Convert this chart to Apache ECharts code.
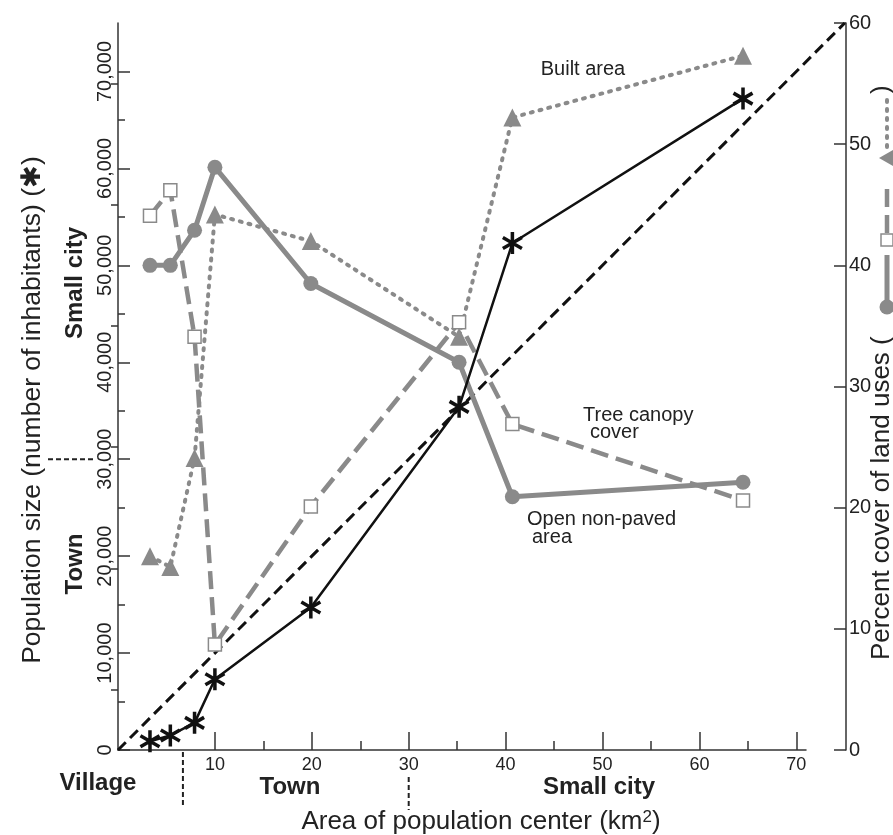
<!DOCTYPE html>
<html><head><meta charset="utf-8">
<script src="https://cdn.jsdelivr.net/npm/echarts@6/dist/echarts.min.js"></script>
<style>html,body{margin:0;padding:0;background:#fff}#c{width:893px;height:835px}</style>
</head><body><div id="c"></div>
<script>
// ---- data ----
const AREA_KM2          = [3.3, 5.4, 7.9, 10, 19.9, 35.2, 40.7, 64.5];
const POPULATION        = [900, 1500, 2800, 7300, 14700, 35400, 52300, 67200];
const OPEN_NONPAVED_PCT = [40.0, 40.0, 42.9, 48.1, 38.5, 32.0, 20.9, 22.1];
const TREE_CANOPY_PCT   = [44.1, 46.2, 34.1, 8.7, 20.1, 35.3, 26.9, 20.6];
const BUILT_AREA_PCT    = [16.0, 15.1, 24.1, 44.2, 42.0, 34.1, 52.2, 57.3];
const DIAG_X   = [0, 75];
const DIAG_POP = [0, 75000];
const X_TICKS   = [10, 20, 30, 40, 50, 60, 70];
const X_MINOR   = [15, 25, 35, 45, 55, 65];
const POP_TICKS = [0, 10000, 20000, 30000, 40000, 50000, 60000, 70000];
const POP_MINOR = [5000, 15000, 25000, 35000, 45000, 55000, 65000];
const PCT_TICKS = [0, 10, 20, 30, 40, 50, 60];
const PCT_MINOR = [5, 15, 25, 35, 45, 55];
const X_MAX = 71, POP_MAX = 75000, PCT_MAX = 60;
const VILLAGE_TOWN_KM2 = 6.7, TOWN_CITY_KM2 = 30, TOWN_CITY_POP = 30000;

const W = 893, GRID_LEFT = 118, GRID_RIGHT = 87, RIGHT_AXIS_OFFSET = 40;
// an invisible, wider grid with the same scale so the density line can reach the right axis
const EXT_X_MAX = X_MAX * (W - GRID_LEFT - (GRID_RIGHT - RIGHT_AXIS_OFFSET)) / (W - GRID_LEFT - GRID_RIGHT);

const FONT = '"Liberation Sans", Arial, Helvetica, sans-serif';
const TXT = '#222';
const AX = '#333';
const GRAY = '#8a8a8a';
const BLACK = '#111';

const ASTERISK = 'path://M-1.6,10 L1.6,10 L1.6,-10 L-1.6,-10 Z ' +
  'M7.86,6.39 L9.46,3.61 L-7.86,-6.39 L-9.46,-3.61 Z ' +
  'M-9.46,3.61 L-7.86,6.39 L9.46,-3.61 L7.86,-6.39 Z';

const zip = (xs, ys) => xs.map((x, i) => [x, ys[i]]);

function tickAxis(common, ticks, len, labels) {
  return Object.assign({
    type: 'value', splitLine: { show: false },
    axisTick: { show: true, inside: true, length: len, customValues: ticks, lineStyle: { color: AX, width: 1.5 } },
    axisLabel: labels ? Object.assign({ customValues: ticks, color: TXT, fontFamily: FONT }, labels) : { show: false }
  }, common);
}

const chart = echarts.init(document.getElementById('c'), null, { renderer: 'canvas' });
const option = {
  animation: false,
  backgroundColor: '#fff',
  grid: [
    { left: GRID_LEFT, right: GRID_RIGHT, top: 23, bottom: 85, containLabel: false },
    { left: GRID_LEFT, right: GRID_RIGHT - RIGHT_AXIS_OFFSET, top: 23, bottom: 85, containLabel: false }
  ],
  xAxis: [
    tickAxis({ min: 0, max: X_MAX, position: 'bottom', axisLine: { show: true, onZero: false, lineStyle: { color: AX, width: 1.5 } } },
      X_TICKS, 18, { fontSize: 18, margin: 6 }),
    tickAxis({ min: 0, max: X_MAX, position: 'bottom', axisLine: { show: false } }, X_MINOR, 9, null),
    { type: 'value', gridIndex: 1, min: 0, max: EXT_X_MAX, show: false }
  ],
  yAxis: [
    tickAxis({ min: 0, max: POP_MAX, position: 'left', axisLine: { show: true, onZero: false, lineStyle: { color: AX, width: 1.5 } } },
      POP_TICKS, 12, { fontSize: 20, rotate: 90, margin: 3, formatter: v => Number(v).toLocaleString('en-US') }),
    tickAxis({ min: 0, max: POP_MAX, position: 'left', axisLine: { show: false } }, POP_MINOR, 7, null),
    tickAxis({ min: 0, max: PCT_MAX, position: 'right', offset: RIGHT_AXIS_OFFSET, axisLine: { show: true, onZero: false, lineStyle: { color: AX, width: 1.5 } } },
      PCT_TICKS, 12, { fontSize: 20, margin: 3 }),
    tickAxis({ min: 0, max: PCT_MAX, position: 'right', offset: RIGHT_AXIS_OFFSET, axisLine: { show: false } }, PCT_MINOR, 7, null),
    { type: 'value', gridIndex: 1, min: 0, max: POP_MAX, show: false }
  ],
  series: [
    { name: 'Density line', type: 'line', data: zip(DIAG_X, DIAG_POP), xAxisIndex: 2, yAxisIndex: 4,
      showSymbol: false, symbol: 'none', lineStyle: { color: BLACK, width: 3, type: [11, 6] }, z: 1 },
    { name: 'Open non-paved area', type: 'line', data: zip(AREA_KM2, OPEN_NONPAVED_PCT), yAxisIndex: 2,
      symbol: 'circle', symbolSize: 15, itemStyle: { color: GRAY }, lineStyle: { color: GRAY, width: 5 }, z: 2 },
    { name: 'Tree canopy cover', type: 'line', data: zip(AREA_KM2, TREE_CANOPY_PCT), yAxisIndex: 2,
      symbol: 'rect', symbolSize: 13, itemStyle: { color: '#fff', borderColor: GRAY, borderWidth: 1.5 },
      lineStyle: { color: GRAY, width: 4.5, type: [18, 8] }, z: 3 },
    { name: 'Built area', type: 'line', data: zip(AREA_KM2, BUILT_AREA_PCT), yAxisIndex: 2,
      symbol: 'triangle', symbolSize: 18, itemStyle: { color: GRAY },
      lineStyle: { color: GRAY, width: 4, type: [2, 7], cap: 'round' }, z: 3 },
    { name: 'Population size', type: 'line', data: zip(AREA_KM2, POPULATION), yAxisIndex: 0,
      symbol: ASTERISK, symbolSize: 22, symbolKeepAspect: true, itemStyle: { color: BLACK },
      lineStyle: { color: BLACK, width: 2.5 }, z: 4 }
  ]
};
chart.setOption(option);

function txt(text, x, y, o) {
  o = o || {};
  return { type: 'text', x: x, y: y, rotation: o.rot || 0, z: 10,
    style: { text: text, fontSize: o.size || 20, fontFamily: FONT, fontWeight: o.bold ? 'bold' : 'normal',
      fill: TXT, align: o.align || 'center', verticalAlign: 'middle', rich: o.rich } };
}
const R = Math.PI / 2;
const xv = chart.convertToPixel({ xAxisIndex: 0 }, VILLAGE_TOWN_KM2);
const xt = chart.convertToPixel({ xAxisIndex: 0 }, TOWN_CITY_KM2);
const y0 = chart.convertToPixel({ yAxisIndex: 0 }, 0);
const yt = chart.convertToPixel({ yAxisIndex: 0 }, TOWN_CITY_POP);
const dash = { stroke: '#222', lineWidth: 2, lineDash: [5, 3] };

const graphic = [
  txt('Population size (number of inhabitants) (\u2731)', 33, 410, { rot: R, size: 26.5 }),
  txt('Small city', 75, 283, { rot: R, size: 24, bold: true }),
  txt('Town', 75, 564, { rot: R, size: 24, bold: true }),
  txt('Village', 98, 783, { size: 24, bold: true }),
  txt('Town', 290, 787, { size: 24, bold: true }),
  txt('Small city', 599, 787, { size: 24, bold: true }),
  txt('Area of population center (km{s|2})', 481, 822, { size: 26, rich: { s: { fontSize: 17, fontFamily: FONT, fill: TXT, verticalAlign: 'top', lineHeight: 26 } } }),
  txt('Built area', 583, 69, {}),
  txt('Tree canopy', 583, 415, { align: 'left' }),
  txt('cover', 590, 432, { align: 'left' }),
  txt('Open non-paved', 527, 519, { align: 'left' }),
  txt('area', 532, 537, { align: 'left' }),
  { type: 'line', shape: { x1: xv, y1: y0 + 2, x2: xv, y2: y0 + 58 }, style: dash },
  { type: 'line', shape: { x1: xt, y1: y0 + 27, x2: xt, y2: y0 + 60 }, style: dash },
  { type: 'line', shape: { x1: 48, y1: yt, x2: 95, y2: yt }, style: dash },
  { type: 'group', x: 882, y: 660, rotation: R, children: [
    { type: 'text', x: 0, y: 0, style: { text: 'Percent cover of land uses (', fontSize: 26, fontFamily: FONT, fill: TXT, align: 'left', verticalAlign: 'middle' } },
    { type: 'line', shape: { x1: 353, y1: 5, x2: 405, y2: 5 }, style: { stroke: GRAY, lineWidth: 5 } },
    { type: 'circle', shape: { cx: 353, cy: 5, r: 7.5 }, style: { fill: GRAY } },
    { type: 'line', shape: { x1: 427, y1: 5, x2: 478, y2: 5 }, style: { stroke: GRAY, lineWidth: 4.5, lineDash: [18, 8] } },
    { type: 'rect', shape: { x: 414, y: -1, width: 12, height: 12 }, style: { fill: '#fff', stroke: GRAY, lineWidth: 1.5 } },
    { type: 'line', shape: { x1: 513, y1: 5, x2: 562, y2: 5 }, style: { stroke: GRAY, lineWidth: 4, lineDash: [2, 7], lineCap: 'round' } },
    { type: 'polygon', shape: { points: [[502, -3], [510, 11], [494, 11]] }, style: { fill: GRAY } },
    { type: 'text', x: 566, y: 0, style: { text: ')', fontSize: 26, fontFamily: FONT, fill: TXT, align: 'left', verticalAlign: 'middle' } }
  ] }
];
chart.setOption({ graphic: graphic });
</script></body></html>
